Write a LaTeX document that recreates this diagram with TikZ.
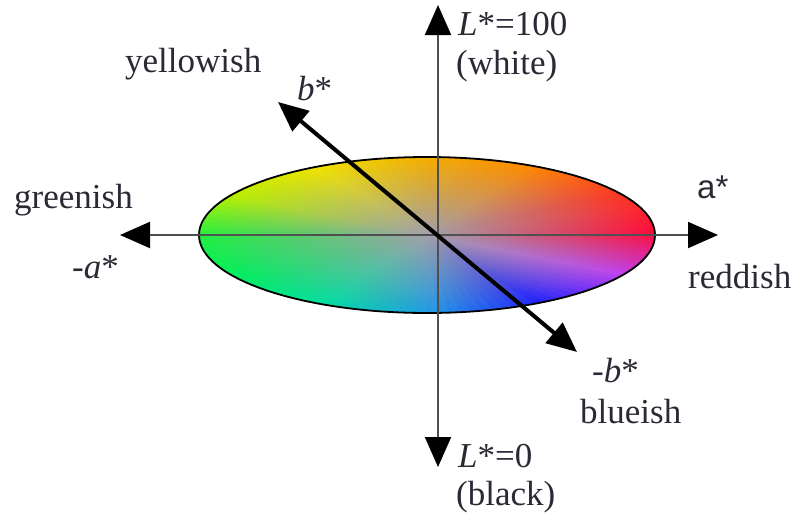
\documentclass[tikz,border=0pt]{standalone}
\usepackage{fontspec}
\setmainfont{Liberation Serif}
\newfontfamily\arialfont{Liberation Sans}
\usetikzlibrary{arrows.meta,fadings}

\definecolor{txtgray}{HTML}{2A2A35}
\definecolor{axisgray}{HTML}{505050}
\definecolor{midgray}{HTML}{A2A0AA}
% hues round the ellipse, every 30 degrees from the right
\definecolor{hue0}{HTML}{FF0A3C}
\definecolor{hue1}{HTML}{FF3A20}
\definecolor{hue2}{HTML}{FF8A00}
\definecolor{hue3}{HTML}{F5B000}
\definecolor{hue4}{HTML}{F0E400}
\definecolor{hue5}{HTML}{B8F000}
\definecolor{hue6}{HTML}{20F040}
\definecolor{hue7}{HTML}{00F060}
\definecolor{hue8}{HTML}{00E0A0}
\definecolor{hue9}{HTML}{2098E8}
\definecolor{hue10}{HTML}{2020FF}
\definecolor{hue11}{HTML}{C040F0}
\definecolor{hue12}{HTML}{FF0A3C}

\tikzfading[name=midfade, inner color=transparent!0, outer color=transparent!100]

\tikzset{
  lbl/.style={font=\fontsize{35}{40}\selectfont, text=txtgray, inner sep=0pt, anchor=base west},
  axisline/.style={draw=axisgray, line width=2pt, {Triangle[length=30pt,width=26pt,color=black]}-{Triangle[length=30pt,width=26pt,color=black]}},
  bline/.style={draw=black, line width=4pt, {Triangle[length=30pt,width=26pt]}-{Triangle[length=30pt,width=26pt]}}
}

\begin{document}
\begin{tikzpicture}[x=1pt,y=-1pt]
\useasboundingbox (0,0) rectangle (797,517);

\coordinate (E) at (427,235);
\coordinate (O) at (438,235);
\coordinate (Ltop) at (438,5);
\coordinate (Lbot) at (438,467);
\coordinate (aneg) at (120,235);
\coordinate (apos) at (718,235);
\coordinate (bpos) at (278,102);
\coordinate (bneg) at (577,352);

% colour ellipse
\begin{scope}
  \clip (E) ellipse [x radius=228, y radius=78];
  \foreach \a in {0,3,...,357}{
    \pgfmathtruncatemacro\hi{\a/30}
    \pgfmathtruncatemacro\hj{\hi+1}
    \pgfmathtruncatemacro\hp{(\a-30*\hi)*100/30}
    \colorlet{wedgecol}{hue\hj!\hp!hue\hi}
    \fill[wedgecol, draw=wedgecol, line width=0.6pt] (E) -- +({-\a}:260 and 95) -- +({-\a-3.6}:260 and 95) -- cycle;
  }
  \fill[midgray, path fading=midfade] (E) ellipse [x radius=228, y radius=78];
\end{scope}
\draw[line width=1.8pt] (E) ellipse [x radius=228, y radius=78];

% axes
\draw[axisline] (aneg) -- (apos);
\draw[axisline] (Lbot) -- (Ltop);
\draw[bline] (bneg) -- (bpos);

% labels
\node[lbl] (ltop1) at (458,35) {\textit{L}*=100};
\node[lbl] (ltop2) at (456,74) {(white)};
\node[lbl] (lbot1) at (458,467) {\textit{L}*=0};
\node[lbl] (lbot2) at (456,505) {(black)};
\node[lbl] (yel) at (125,72) {yellowish};
\node[lbl] (bp) at (297,100) {\textit{b}*};
\node[lbl] (grn) at (14,208) {greenish};
\node[lbl] (an) at (72,278) {-\textit{a}*};
\node[lbl, font=\fontsize{33}{40}\arialfont] (ap) at (697,198) {a*};
\node[lbl] (red) at (688,288) {reddish};
\node[lbl] (bn) at (592,382) {-\textit{b}*};
\node[lbl] (blu) at (580,423) {blueish};
\end{tikzpicture}
\end{document}
